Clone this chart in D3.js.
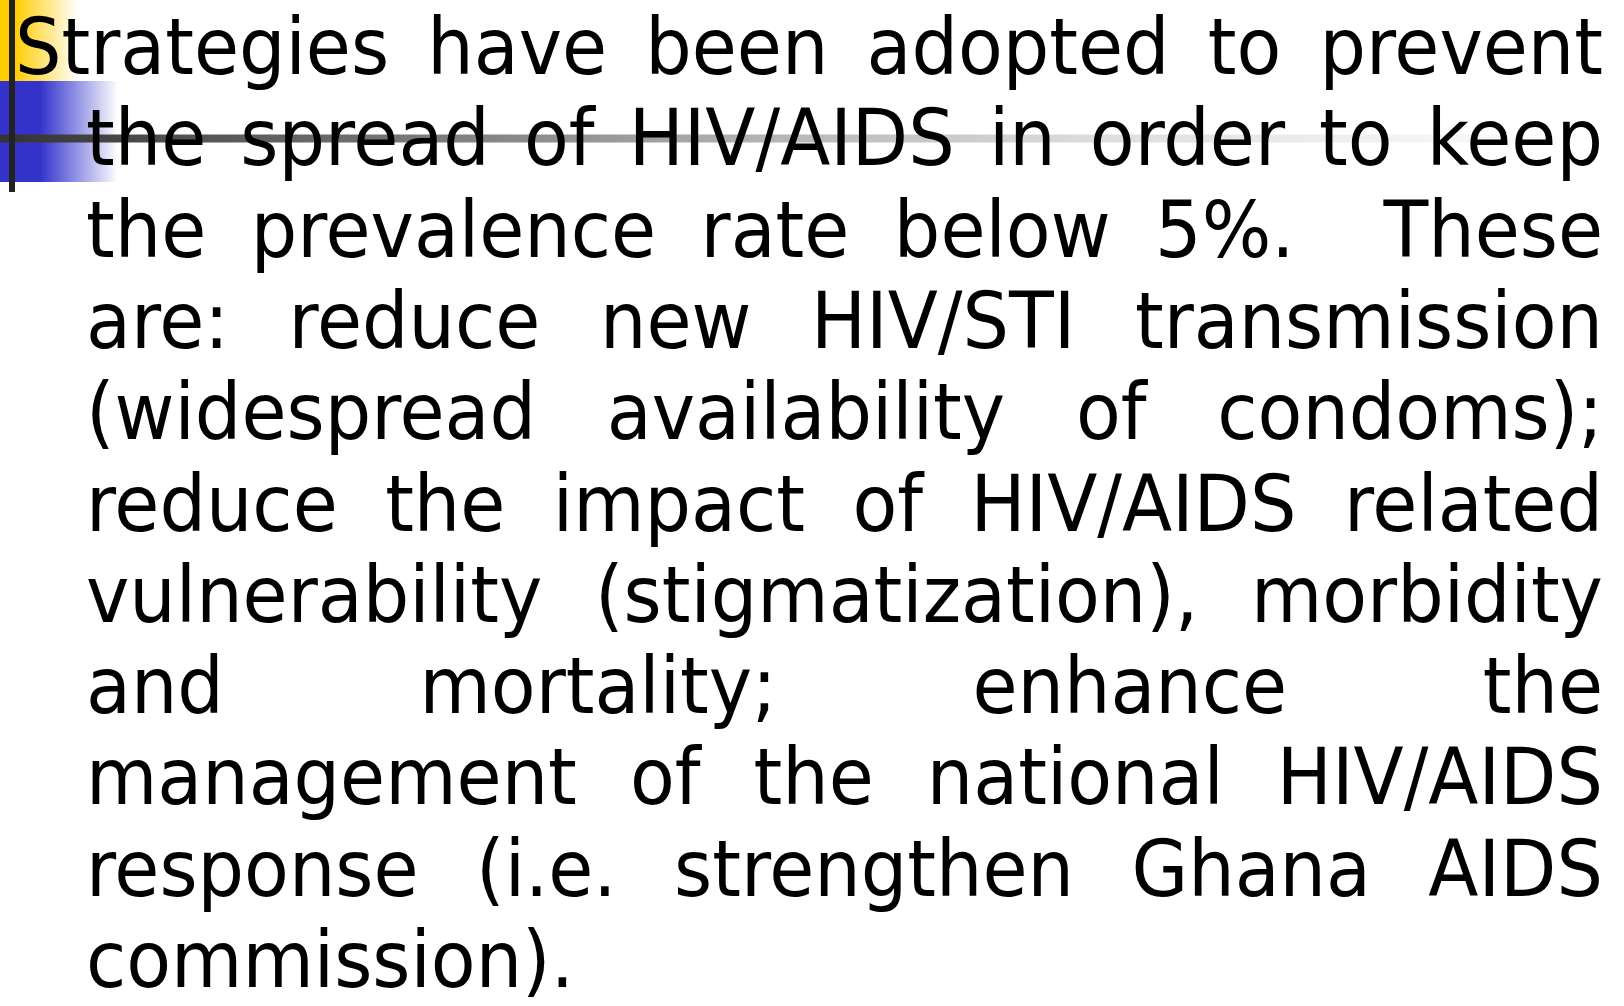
<!DOCTYPE html>
<html>
<head>
<meta charset="utf-8">
<script src="https://cdn.jsdelivr.net/npm/d3@7"></script>
<style>
  html, body { margin: 0; padding: 0; background: #ffffff; }
  svg { display: block; }
</style>
</head>
<body>
<script>
// ---- Data: the slide's text lines ----
const lines = [
  "Strategies have been adopted to prevent",
  "the spread of HIV/AIDS in order to keep",
  "the prevalence rate below 5%.  These",
  "are: reduce new HIV/STI transmission",
  "(widespread availability of condoms);",
  "reduce the impact of HIV/AIDS related",
  "vulnerability (stigmatization), morbidity",
  "and mortality; enhance the",
  "management of the national HIV/AIDS",
  "response (i.e. strengthen Ghana AIDS",
  "commission)."
];
const justified = [true, true, true, true, true, true, true, true, true, true, false];
const lineIndent = [0, 1, 1, 1, 1, 1, 1, 1, 1, 1, 1];

// ---- Layout ----
const W = 1624, H = 1006;
const fontFamily = "'DejaVu Sans Condensed', 'DejaVu Sans', sans-serif";
const fontSize = 79;
const firstX = 15, indentX = 86, rightX = 1603;
const lastLineWidth = 488;

const svg = d3.select("body").append("svg")
  .attr("width", W).attr("height", H)
  .attr("viewBox", `0 0 ${W} ${H}`);

svg.append("rect").attr("width", W).attr("height", H).attr("fill", "#ffffff");

const defs = svg.append("defs");
function hGrad(id, x1, x2, stops) {
  const g = defs.append("linearGradient").attr("id", id)
    .attr("gradientUnits", "userSpaceOnUse")
    .attr("x1", x1).attr("x2", x2).attr("y1", 0).attr("y2", 0);
  stops.forEach(s => g.append("stop").attr("offset", s[0]).attr("stop-color", s[1]));
}
hGrad("gYellow", 14, 78, [[0, "#FFCC00"], [1, "#FFFFFF"]]);
hGrad("gBlue", 40, 118, [[0, "#3333CC"], [1, "#FFFFFF"]]);
hGrad("gLine", 0, 1585, [[0, "#333333"], [0.13, "#555555"], [0.32, "#888888"], [0.5, "#b8b8b8"], [0.7, "#dedede"], [0.88, "#f2f2f2"], [1, "#ffffff"]]);

// bullet decoration
svg.append("rect").attr("x", 0).attr("y", 0).attr("width", 80).attr("height", 81).attr("fill", "url(#gYellow)");
svg.append("rect").attr("x", 0).attr("y", 81).attr("width", 120).attr("height", 101).attr("fill", "url(#gBlue)");
svg.append("rect").attr("x", 0).attr("y", 134.5).attr("width", 1585).attr("height", 8).attr("fill", "url(#gLine)");
svg.append("rect").attr("x", 9).attr("y", 0).attr("width", 6).attr("height", 192).attr("fill", "#222222");

// ---- Text ----
function tw(s) {
  const t = svg.append("text").attr("font-family", fontFamily).attr("font-size", fontSize)
    .attr("xml:space", "preserve").style("visibility", "hidden").text(s);
  const w = t.node().getComputedTextLength();
  t.remove();
  return w;
}
const spaceW = tw("x x") - tw("xx");
const sx = lastLineWidth / tw(lines[lines.length - 1]);

const y = d3.scaleLinear().domain([0, lines.length - 1]).range([74, 987]);

const textG = svg.append("g");
lines.forEach((line, i) => {
  const x0 = lineIndent[i] ? indentX : firstX;
  const g = textG.append("g").attr("transform", `translate(${x0},${y(i)}) scale(${sx},1)`);
  const tokens = line.split(/( +)/).filter(t => t.length);
  const words = tokens.filter(t => !/^ +$/.test(t));
  const nSpaces = tokens.filter(t => /^ +$/.test(t)).reduce((a, t) => a + t.length, 0);
  const natural = d3.sum(words, tw) + nSpaces * spaceW;
  const avail = (rightX - x0) / sx;
  const gap = justified[i] && nSpaces > 0 ? spaceW + (avail - natural) / nSpaces : spaceW;
  let cx = 0;
  const placed = [];
  tokens.forEach(t => {
    if (/^ +$/.test(t)) { cx += gap * t.length; }
    else { placed.push({ t, x: cx }); cx += tw(t); }
  });
  g.selectAll("text").data(placed).join("text")
    .attr("x", d => d.x).attr("y", 0)
    .attr("font-family", fontFamily).attr("font-size", fontSize)
    .attr("fill", "#000000")
    .text(d => d.t);
});
</script>
</body>
</html>
